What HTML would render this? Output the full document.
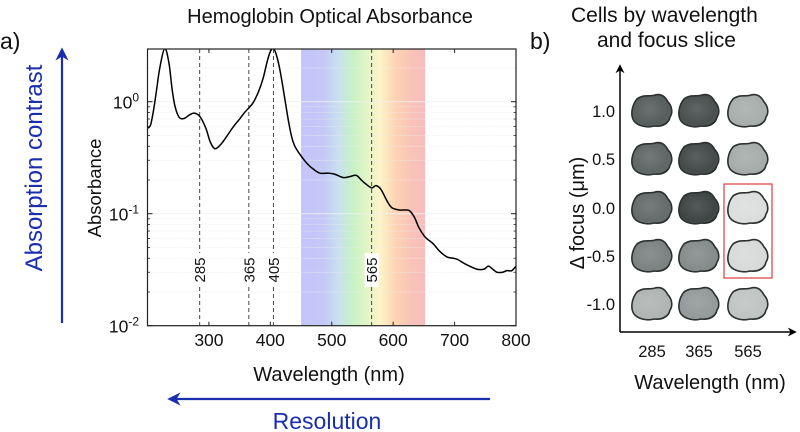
<!DOCTYPE html>
<html><head><meta charset="utf-8"><style>
html,body{margin:0;padding:0;background:#fff}
svg{display:block;font-family:"Liberation Sans",sans-serif}
</style></head><body>
<svg id="fig" width="800" height="432" viewBox="0 0 800 432">
<defs>
<linearGradient id="spec" x1="0" x2="1" y1="0" y2="0">
<stop offset="0" stop-color="#c4c4fa"/>
<stop offset="0.18" stop-color="#c4c8f6"/>
<stop offset="0.3" stop-color="#c8e0f0"/>
<stop offset="0.42" stop-color="#c8f2c4"/>
<stop offset="0.55" stop-color="#e6f6c8"/>
<stop offset="0.64" stop-color="#fcf4c8"/>
<stop offset="0.76" stop-color="#fcd4b4"/>
<stop offset="0.88" stop-color="#f9c4b8"/>
<stop offset="1" stop-color="#f8bcbc"/>
</linearGradient>
<radialGradient id="cellshade" cx="0.45" cy="0.45" r="0.6">
<stop offset="0" stop-color="#fff" stop-opacity="0.12"/>
<stop offset="0.8" stop-color="#fff" stop-opacity="0"/>
<stop offset="1" stop-color="#000" stop-opacity="0.15"/>
</radialGradient>
<marker id="ah" viewBox="0 0 10 10" refX="8" refY="5" markerWidth="6" markerHeight="6" orient="auto"><path d="M0,0 L10,5 L0,10 L3,5 z" fill="#1a2fb0"/></marker>
<marker id="ak" viewBox="0 0 10 10" refX="8" refY="5" markerWidth="6" markerHeight="6" orient="auto"><path d="M0,0 L10,5 L0,10 L3,5 z" fill="#000"/></marker>
</defs>
<g id="chartA"></g>
<g id="panelB"></g>
</svg>
<script>
const wavelengths=[200,205,210,215,220,228,235,240,245,252,260,268,276,285,295,302,310,320,330,340,350,358,365,372,380,388,395,400,405,410,415,420,425,430,435,440,448,460,470,481,495,505,519,530,540,548,555,565,572,580,590,598,610,620,627,635,642,652,665,676,688,698,705,712,720,736,748,755,762,769,778,785,793,800];
const absorbance=[0.58,0.62,0.85,1.3,2.0,3.0,2.2,1.3,0.9,0.72,0.71,0.76,0.79,0.74,0.58,0.44,0.38,0.42,0.5,0.6,0.7,0.8,0.88,0.98,1.2,1.6,2.3,2.8,3.0,2.6,2.0,1.4,0.95,0.65,0.48,0.4,0.34,0.28,0.25,0.23,0.23,0.225,0.21,0.215,0.22,0.2,0.185,0.17,0.178,0.165,0.13,0.113,0.108,0.108,0.106,0.092,0.075,0.062,0.054,0.046,0.041,0.040,0.039,0.037,0.035,0.032,0.032,0.034,0.032,0.030,0.030,0.031,0.031,0.034];
const markerLines=[285,365,405,565];
const xTicks=[300,400,500,600,700,800];
const yDecades=[0,-1,-2];
const NS="http://www.w3.org/2000/svg";
const X0=147.5,X1=516,Y0=325.7,PX_DEC=112;
const xs=w=>X0+(w-200)*(X1-X0)/600;
const ys=v=>Y0-(Math.log10(v)+2)*PX_DEC;
const YT=49;
function mk(tag,attrs,parent){const e=document.createElementNS(NS,tag);for(const k in attrs)e.setAttribute(k,attrs[k]);parent.appendChild(e);return e;}
const A=document.getElementById('chartA');
let band=mk('rect',{x:xs(450),y:YT,width:xs(652)-xs(450),height:Y0-YT,fill:'url(#spec)'},A);


for(const d of yDecades.concat([1])){for(let m=1;m<10;m++){const v=m*Math.pow(10,d-1);if(v<0.01||v>2.95)continue;const y=ys(v);
let g=mk('line',{x1:X0,x2:X1,y1:y,y2:y,stroke:(m==1)?'#f0f0f0':'#ececec','stroke-width':m==1?1.2:0.7,'stroke-dasharray':m==1?'':'2,1','opacity':0.8},A);

}}
for(const w of markerLines){const x=xs(w);
let l=mk('line',{x1:x,x2:x,y1:YT,y2:Y0,stroke:'#333','stroke-width':0.9,'stroke-dasharray':'4,3'},A);


let bg=mk('rect',{x:x-7,y:253,width:14,height:34,fill:'#fff'},A);


let t=mk('text',{x:0,y:0,transform:`translate(${x+5.5},${270}) rotate(-90)`,'text-anchor':'middle','font-size':15,fill:'#111'},A);
t.textContent=w;

}
const pts=wavelengths.map((w,i)=>[xs(w),ys(absorbance[i])]);
let d=`M${pts[0][0]},${pts[0][1]}`;
for(let i=0;i<pts.length-1;i++){const p0=pts[Math.max(0,i-1)],p1=pts[i],p2=pts[i+1],p3=pts[Math.min(pts.length-1,i+2)];
d+=` C${p1[0]+(p2[0]-p0[0])/6},${p1[1]+(p2[1]-p0[1])/6} ${p2[0]-(p3[0]-p1[0])/6},${p2[1]-(p3[1]-p1[1])/6} ${p2[0]},${p2[1]}`;}
const cp=mk('clipPath',{id:'clp'},A);mk('rect',{x:X0,y:YT,width:X1-X0,height:Y0-YT},cp);
let c=mk('path',{d:d,fill:'none',stroke:'#000','stroke-width':1.5,'clip-path':'url(#clp)'},A);


let fr=mk('rect',{x:X0,y:YT,width:X1-X0,height:Y0-YT,fill:'none',stroke:'#222','stroke-width':1.2},A);


for(const w of xTicks){const x=xs(w);
mk('line',{x1:x,x2:x,y1:Y0,y2:Y0-4,stroke:'#222'},A);mk('line',{x1:x,x2:x,y1:YT,y2:YT+4,stroke:'#222'},A);
let t=mk('text',{x:x,y:346,'text-anchor':'middle','font-size':17.5,fill:'#111'},A);t.textContent=w;

}
for(const dd of yDecades){const y=ys(Math.pow(10,dd));
mk('line',{x1:X0,x2:X0+5,y1:y,y2:y,stroke:'#222'},A);mk('line',{x1:X1,x2:X1-5,y1:y,y2:y,stroke:'#222'},A);
let t=mk('text',{x:139,y:y+7,'text-anchor':'end','font-size':17.5,fill:'#111'},A);
t.innerHTML=`10<tspan dy="-7" font-size="12">${dd}</tspan>`;


for(let m=2;m<10;m++){const v=m*Math.pow(10,dd-1);if(v<0.01)continue;const yy=ys(v);mk('line',{x1:X0,x2:X0+2.5,y1:yy,y2:yy,stroke:'#222','stroke-width':0.8},A);mk('line',{x1:X1,x2:X1-2.5,y1:yy,y2:yy,stroke:'#222','stroke-width':0.8},A);}}
</script>
<script>
(function(){
const svg=document.getElementById('fig');
const B=document.getElementById('panelB');
function mk(tag,attrs,parent){const e=document.createElementNS("http://www.w3.org/2000/svg",tag);for(const k in attrs)e.setAttribute(k,attrs[k]);parent.appendChild(e);return e;}
function txt(s,attrs,name,parent){const t=mk('text',attrs,parent||svg);t.textContent=s;return t;}
txt('a)',{x:0,y:49,'font-size':23,fill:'#111'},'panel-a-label');
txt('Hemoglobin Optical Absorbance',{x:330,y:23,'text-anchor':'middle','font-size':20,fill:'#111'},'chart-title');
txt('Absorbance',{transform:'translate(101,188) rotate(-90)','text-anchor':'middle','font-size':18.5,fill:'#111'},'y-axis-title');
txt('Wavelength (nm)',{x:329,y:381,'text-anchor':'middle','font-size':20,fill:'#111'},'x-axis-title');
let a1=mk('line',{x1:62,y1:323,x2:62,y2:50,stroke:'#1a2fb0','stroke-width':2.2,'marker-end':'url(#ah)'},svg);

txt('Absorption contrast',{transform:'translate(42,168) rotate(-90)','text-anchor':'middle','font-size':24,fill:'#1a2fb0'},'absorption-contrast-label');
let a2=mk('line',{x1:490,y1:399,x2:170,y2:399,stroke:'#1a2fb0','stroke-width':2.2,'marker-end':'url(#ah)'},svg);

txt('Resolution',{x:327,y:429,'text-anchor':'middle','font-size':23,fill:'#1a2fb0'},'resolution-label');
txt('b)',{x:530,y:49,'font-size':23,fill:'#111'},'panel-b-label');
txt('Cells by wavelength',{x:571,y:22,'font-size':21,fill:'#111'},'panel-b-title-line1');
txt('and focus slice',{x:597,y:47,'font-size':21,fill:'#111'},'panel-b-title-line2');
let va=mk('line',{x1:620,y1:332,x2:620,y2:66,stroke:'#000','stroke-width':1.5,'marker-end':'url(#ak)'},B);

let ha=mk('line',{x1:620,y1:332,x2:795,y2:332,stroke:'#000','stroke-width':1.5,'marker-end':'url(#ak)'},B);

const focusLabels=['1.0','0.5','0.0','-0.5','-1.0'];
const rowY=[111,159,208,256,304];
const colLabels=['285','365','565'];
const colX=[652,699,748];
const shades=[['#565e5d','#4a504f','#a8aeac'],['#5f6766','#444a49','#a6acaa'],['#646b6a','#3e4443','#dcdede'],['#7c8281','#858b8a','#d8dada'],['#b0b4b3','#94999a','#c0c4c3']];
focusLabels.forEach((s,i)=>txt(s,{x:615,y:rowY[i]+6,'text-anchor':'end','font-size':16.5,fill:'#111'},'focus-tick-label',B));
colLabels.forEach((s,i)=>txt(s,{x:colX[i],y:357,'text-anchor':'middle','font-size':16.5,fill:'#111'},'wavelength-tick-label',B));
txt('Wavelength (nm)',{x:710,y:389,'text-anchor':'middle','font-size':20,fill:'#111'},'panel-b-x-title',B);
txt('Δ focus (μm)',{transform:'translate(584,213) rotate(-90)','text-anchor':'middle','font-size':20,fill:'#111'},'panel-b-y-title',B);
const blob='M-15,-12 C-9,-17 -2,-14 3,-16 C10,-18 14,-13 16,-9 C20,-5 21,2 18,6 C17,12 11,16 2,15 C-5,17 -14,15 -18,10 C-22,4 -20,-6 -15,-12 Z';
for(let r=0;r<5;r++)for(let c=0;c<3;c++){
const g=mk('path',{d:blob,transform:`translate(${colX[c]},${rowY[r]})`,fill:shades[r][c],stroke:'#2a2e2d','stroke-width':1.6},B);

mk('path',{d:blob,transform:`translate(${colX[c]},${rowY[r]})`,fill:'url(#cellshade)'},B);}
let rr=mk('rect',{x:724,y:184,width:48,height:94,fill:'none',stroke:'#e04848','stroke-width':1.3},B);

})();
</script>
</body></html>
